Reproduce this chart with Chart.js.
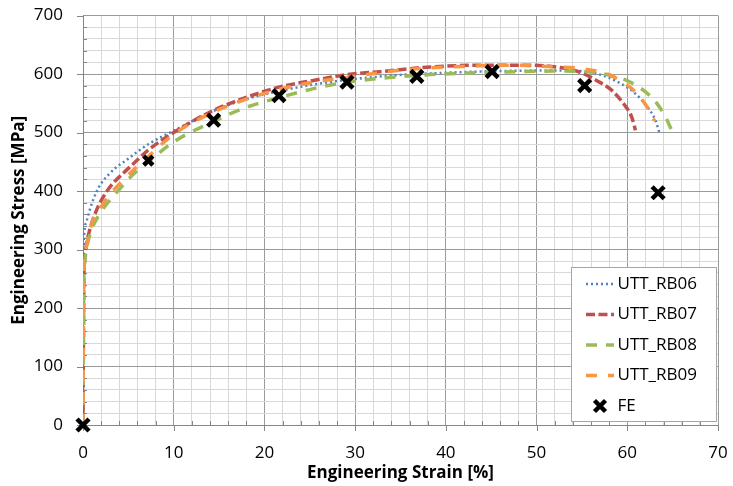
<!DOCTYPE html>
<html>
<head>
<meta charset="utf-8">
<script src="https://cdn.jsdelivr.net/npm/chart.js@4.4.1/dist/chart.umd.min.js"></script>
<style>
  body { margin: 0; background: #fff; }
</style>
</head>
<body>
<canvas id="chart" width="733" height="486"></canvas>
<script>
// values
var seriesNames = ['UTT_RB06', 'UTT_RB07', 'UTT_RB08', 'UTT_RB09', 'FE'];

var rb06Strain = [0, 0.05, 0.08, 0.12, 0.37, 0.73, 1.1, 1.47, 2.0, 2.76, 3.7, 4.8, 5.9, 7.2, 10, 14.4, 18, 21.7, 25.4, 29.1, 34.6, 38.3, 45.6, 53, 55.5, 57, 59, 60.7, 62.1, 63.1, 63.6];
var rb06Stress = [0, 170, 290, 322, 347, 367, 384, 398, 413, 427, 441, 453, 466, 480, 503, 537, 557, 571, 582, 590, 598, 601, 605, 606, 604, 599, 586, 569, 546, 521, 497];

var rb07Strain = [0, 0.05, 0.1, 0.18, 0.37, 0.73, 1.28, 1.84, 2.57, 3.3, 4.2, 5.3, 7.2, 10, 14.4, 18, 21.7, 25.4, 29.1, 32.7, 38.3, 43.8, 49.3, 52.6, 54.8, 56.6, 58.3, 59.6, 60.5, 60.9];
var rb07Stress = [0, 150, 255, 282, 307, 333, 359, 379, 398, 413, 427, 443, 470, 500, 538, 560, 578, 589, 599, 604, 612, 615, 615, 611, 603, 589, 572, 549, 526, 504];

var rb08Strain = [0, 0.05, 0.1, 0.2, 0.5, 0.92, 1.65, 2.57, 3.5, 5, 6.2, 7.2, 10, 14.4, 18, 21.7, 25.4, 29.1, 34.6, 38.3, 45.6, 53, 56.3, 58.3, 59.9, 61.8, 63.3, 64.3, 65.1];
var rb08Stress = [0, 150, 250, 280, 310, 333, 356, 377, 394, 420, 438, 450, 484, 519, 543, 560, 575, 586, 595, 599, 603, 605, 603, 597, 589, 572, 549, 524, 496];

var rb09Strain = [0, 0.05, 0.1, 0.2, 0.5, 1.1, 2.0, 2.9, 4.2, 5.5, 7.0, 10, 14.4, 18, 21.7, 25.4, 29.1, 34.6, 41.9, 47.4, 52.2, 55.1, 58.1, 60.7, 62.3, 63.0];
var rb09Stress = [0, 150, 255, 285, 315, 350, 373, 393, 415, 435, 456, 497, 535, 557, 574, 586, 594, 606, 613, 615, 612, 609, 598, 572, 541, 520];

var feStrain = [0, 7.2, 14.4, 21.6, 29.1, 36.8, 45.1, 55.3, 63.4];
var feStress = [0, 452, 521, 563, 586, 596, 604, 580, 397];

function pairs(xs, ys) {
  return xs.map(function(x, i) { return { x: x, y: ys[i] }; });
}

Chart.defaults.font.family = "'Open Sans', sans-serif";
Chart.defaults.color = '#000';

function curve(name, xs, ys, color, dash, width, order) {
  return {
    label: name,
    data: pairs(xs, ys),
    showLine: true,
    borderColor: color,
    backgroundColor: color,
    borderWidth: width,
    borderDash: dash,
    pointRadius: 0,
    cubicInterpolationMode: 'monotone',
    fill: false,
    order: order
  };
}

function gridColor(ctx) {
  return ctx.tick && ctx.tick.value % 10 === 0 ? '#9a9a9a' : '#d9d9d9';
}
function gridColorY(ctx) {
  return ctx.tick && ctx.tick.value % 100 === 0 ? '#9a9a9a' : '#d9d9d9';
}

// tick marks: major ones outside, minor ones inside, like the original
var tickMarks = {
  id: 'tickMarks',
  beforeDatasetsDraw: function(chart) {
    var ctx = chart.ctx, a = chart.chartArea;
    var xs = chart.scales.x, ys = chart.scales.y;
    ctx.save();
    ctx.strokeStyle = '#868686';
    ctx.lineWidth = 1;
    ctx.beginPath();
    xs.ticks.forEach(function(t) {
      var px = Math.round(xs.getPixelForValue(t.value)) + 0.5;
      if (t.value % 10 === 0) {
        ctx.moveTo(px, a.bottom);
        ctx.lineTo(px, a.bottom + 6);
      } else {
        ctx.moveTo(px, a.bottom);
        ctx.lineTo(px, a.bottom - 4);
      }
    });
    ys.ticks.forEach(function(t) {
      var py = Math.round(ys.getPixelForValue(t.value)) + 0.5;
      if (t.value % 100 === 0) {
        ctx.moveTo(a.left - 6, py);
        ctx.lineTo(a.left, py);
      } else {
        ctx.moveTo(a.left, py);
        ctx.lineTo(a.left + 4, py);
      }
    });
    ctx.stroke();
    ctx.restore();
  }
};

var legendBox = {
  id: 'legendBox',
  afterDraw: function(chart) {
    var ctx = chart.ctx, a = chart.chartArea;
    var w = 145, h = 154;
    var left = Math.round(a.right - 2 - w) + 0.5, top = Math.round(a.bottom - 4 - h) + 0.5;
    ctx.save();
    ctx.fillStyle = '#fff';
    ctx.fillRect(left, top, w, h);
    ctx.strokeStyle = '#a6a6a6';
    ctx.lineWidth = 1;
    ctx.strokeRect(left, top, w, h);
    ctx.font = "17px 'Open Sans', sans-serif";
    ctx.textBaseline = 'middle';
    ctx.fillStyle = '#000';
    chart.data.datasets.forEach(function(ds, i) {
      var y = top + 16.5 + i * 30.5;
      var sx = left + 14.5;
      if (ds.showLine !== true) {
        var cx = sx + 14, r = 5.5;
        ctx.strokeStyle = '#000';
        ctx.lineWidth = 4.5;
        ctx.setLineDash([]);
        ctx.beginPath();
        ctx.moveTo(cx - r, y - r); ctx.lineTo(cx + r, y + r);
        ctx.moveTo(cx + r, y - r); ctx.lineTo(cx - r, y + r);
        ctx.stroke();
      } else {
        ctx.strokeStyle = ds.borderColor;
        ctx.lineWidth = ds.borderWidth;
        ctx.setLineDash(ds.borderDash);
        ctx.beginPath();
        ctx.moveTo(sx, y);
        ctx.lineTo(sx + 28, y);
        ctx.stroke();
      }
      ctx.setLineDash([]);
      ctx.fillText(ds.label, left + 46, y);
    });
    ctx.restore();
  }
};

var noTick = 'rgba(0,0,0,0)';

var options = {
  type: 'scatter',
  data: {
    datasets: [
      curve(seriesNames[0], rb06Strain, rb06Stress, '#4f81bd', [2, 3], 2.5, 5),
      curve(seriesNames[1], rb07Strain, rb07Stress, '#c0504d', [9, 3.5], 3.5, 4),
      curve(seriesNames[2], rb08Strain, rb08Stress, '#9bbb59', [11, 9], 3.5, 3),
      curve(seriesNames[3], rb09Strain, rb09Stress, '#f79646', [11, 11], 3.5, 2),
      {
        label: seriesNames[4],
        data: pairs(feStrain, feStress),
        showLine: false,
        pointStyle: 'crossRot',
        pointRadius: function(c) { return c.dataIndex === 1 ? 6.5 : 8.5; },
        pointBorderWidth: 4.5,
        borderColor: '#000',
        backgroundColor: '#000',
        clip: false,
        order: 1
      }
    ]
  },
  options: {
    responsive: false,
    animation: false,
    layout: { autoPadding: false, padding: { top: 15.5, right: 15, left: 0, bottom: 0 } },
    plugins: {
      legend: { display: false },
      tooltip: { enabled: false }
    },
    scales: {
      x: {
        type: 'linear',
        min: 0,
        max: 70,
        afterFit: function(s) { s.height = 61; },
        ticks: {
          stepSize: 2,
          autoSkip: false,
          maxRotation: 0,
          padding: 0,
          font: { size: 17 },
          callback: function(v) { return v % 10 === 0 ? v : ''; }
        },
        grid: {
          color: gridColor,
          lineWidth: 1,
          tickLength: 18,
          tickColor: noTick
        },
        border: { color: '#868686', width: 1 },
        title: {
          display: true,
          text: 'Engineering Strain [%]',
          font: { size: 17, weight: 'bold' },
          padding: { top: 0, bottom: 3 }
        }
      },
      y: {
        type: 'linear',
        min: 0,
        max: 700,
        afterFit: function(s) { s.width = 83; },
        ticks: {
          stepSize: 20,
          autoSkip: false,
          padding: 0,
          font: { size: 17 },
          callback: function(v) { return v % 100 === 0 ? v : ''; }
        },
        grid: {
          color: gridColorY,
          lineWidth: 1,
          tickLength: 20,
          tickColor: noTick
        },
        border: { color: '#868686', width: 1 },
        title: {
          display: true,
          text: 'Engineering Stress [MPa]',
          font: { size: 17, weight: 'bold' },
          padding: { top: 9, bottom: 0 }
        }
      }
    }
  },
  plugins: [tickMarks, legendBox]
};

var chart = new Chart(document.getElementById('chart'), options);
</script>
</body>
</html>
